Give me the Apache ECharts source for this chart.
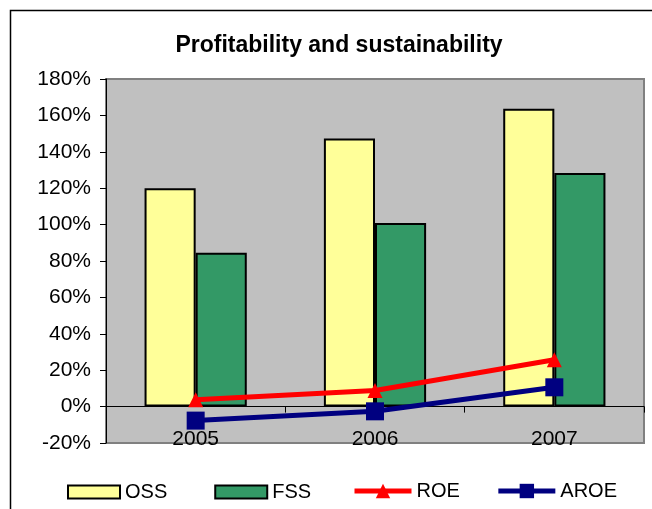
<!DOCTYPE html>
<html>
<head>
<meta charset="utf-8">
<script src="https://cdn.jsdelivr.net/npm/echarts@6/dist/echarts.min.js"></script>
<style>
  html, body { margin: 0; padding: 0; background: #fff; }
  #chart { width: 652px; height: 509px; }
</style>
</head>
<body>
<div id="chart"></div>
<script>
// Years on the category axis
const years = ['2005', '2006', '2007'];
// Operational and financial self-sufficiency (%)
const ossValues = [120, 147.3, 163.6];
const fssValues = [84.6, 100.9, 128.4];
// Return on equity and adjusted return on equity (%)
const roeValues = [3.7, 8.8, 25.7];
const aroeValues = [-7.7, -2.6, 10.6];
// Value axis range and step (%)
const yMin = -20, yMax = 180, yStep = 20;

const FONT = '"Liberation Sans", Arial, sans-serif';

const chart = echarts.init(document.getElementById('chart'), null, { renderer: 'canvas' });

chart.setOption({
  backgroundColor: '#ffffff',
  animation: false,
  title: {
    text: 'Profitability and sustainability',
    left: 334,
    top: 29,
    textAlign: 'center',
    textStyle: { fontFamily: FONT, fontSize: 23, fontWeight: 'bold', color: '#000' }
  },
  graphic: [{
    type: 'rect',
    shape: { x: 10.5, y: 10.5, width: 700, height: 600 },
    style: { fill: 'none', stroke: '#000', lineWidth: 1.5 },
    silent: true,
    z: -1
  }],
  legend: [
    {
      // bar series: flat swatches
      left: 62,
      top: 477,
      itemWidth: 52,
      itemHeight: 13,
      itemGap: 47,
      textStyle: { fontFamily: FONT, fontSize: 20, color: '#000' },
      data: [
        { name: 'OSS', icon: 'rect' },
        { name: 'FSS', icon: 'rect' }
      ]
    },
    {
      // line series: thick line with its marker
      left: 347,
      top: 476,
      itemWidth: 57,
      itemHeight: 18,
      itemGap: 36,
      textStyle: { fontFamily: FONT, fontSize: 20, color: '#000' },
      data: [
        { name: 'ROE', lineStyle: { width: 5 } },
        { name: 'AROE', lineStyle: { width: 5 } }
      ]
    }
  ],
  grid: {
    left: 106, right: 8, top: 79, bottom: 66,
    show: true,
    backgroundColor: '#C0C0C0',
    borderColor: '#808080',
    borderWidth: 2
  },
  xAxis: {
    type: 'category',
    data: years,
    axisLine: { onZero: true, lineStyle: { color: '#000', width: 1 } },
    axisTick: { show: true, length: 6, lineStyle: { color: '#000' } },
    axisLabel: { fontFamily: FONT, fontSize: 21, color: '#000', margin: -14 },
    splitLine: { show: false }
  },
  yAxis: {
    type: 'value',
    min: yMin,
    max: yMax,
    interval: yStep,
    axisLine: { show: true, lineStyle: { color: '#000', width: 1 } },
    axisTick: { show: true, length: 6, lineStyle: { color: '#000' } },
    axisLabel: {
      fontFamily: FONT, fontSize: 21, color: '#000', margin: 15,
      formatter: v => Math.round(v) + '%'
    },
    splitLine: { show: false }
  },
  series: [
    {
      name: 'OSS', type: 'bar', data: ossValues,
      barGap: '0%', barCategoryGap: '43%',
      itemStyle: { color: '#FFFF99', borderColor: '#000', borderWidth: 2 }
    },
    {
      name: 'FSS', type: 'bar', data: fssValues,
      barGap: '0%', barCategoryGap: '43%',
      itemStyle: { color: '#339966', borderColor: '#000', borderWidth: 2 }
    },
    {
      name: 'ROE', type: 'line', data: roeValues,
      symbol: 'triangle', symbolSize: 15,
      lineStyle: { color: '#FF0000', width: 5 },
      itemStyle: { color: '#FF0000' },
      z: 5
    },
    {
      name: 'AROE', type: 'line', data: aroeValues,
      symbol: 'rect', symbolSize: 18,
      lineStyle: { color: '#000080', width: 5 },
      itemStyle: { color: '#000080' },
      z: 6
    }
  ]
});
</script>
</body>
</html>
